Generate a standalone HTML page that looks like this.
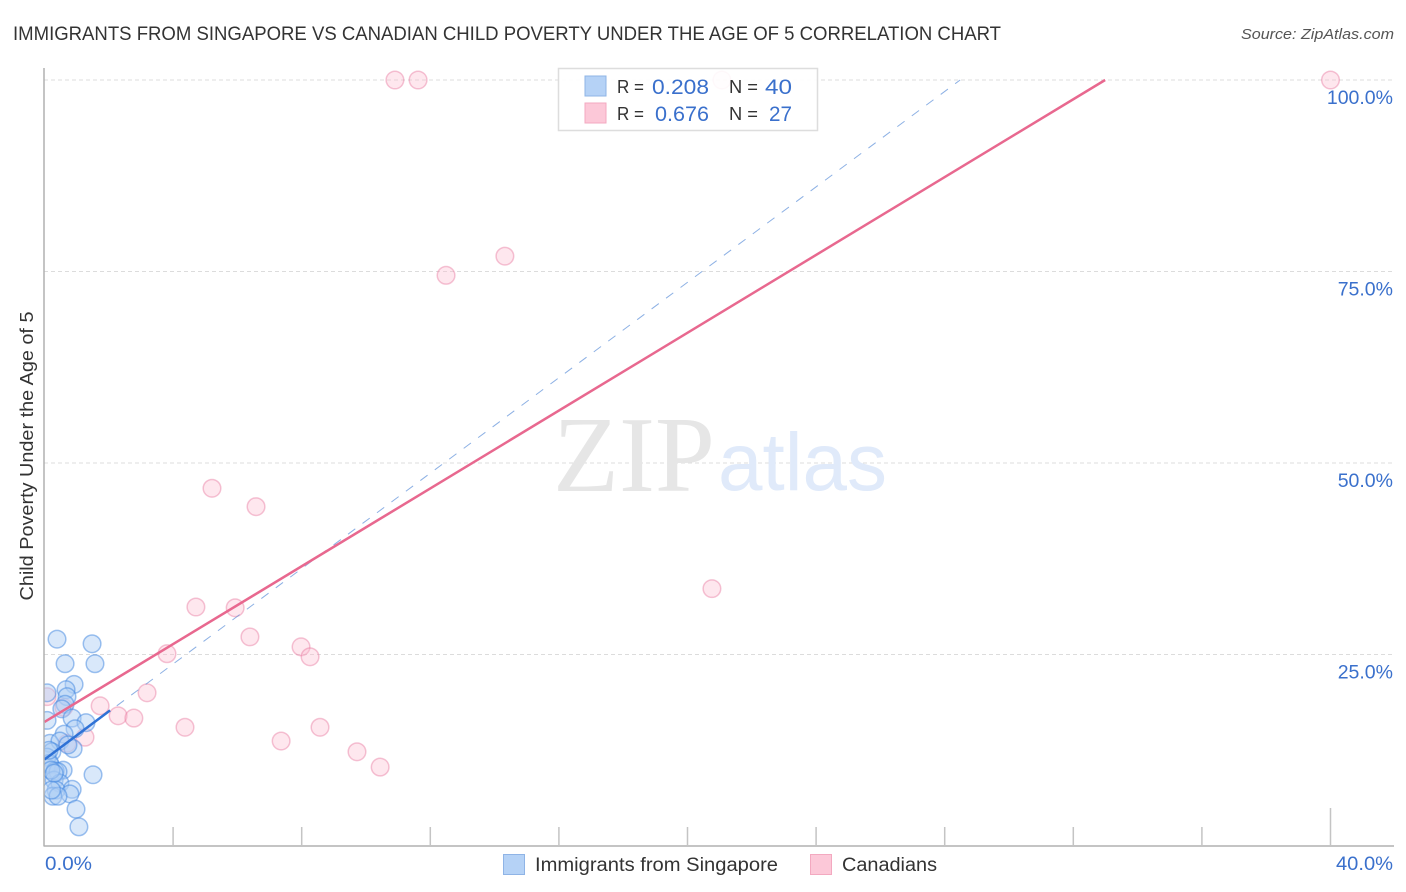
<!DOCTYPE html>
<html>
<head>
<meta charset="utf-8">
<style>
html,body{margin:0;padding:0;background:#fff;width:1406px;height:892px;overflow:hidden}
svg{display:block}
text{font-family:"Liberation Sans",sans-serif}
</style>
</head>
<body>
<svg id="chart" width="1406" height="892" viewBox="0 0 1406 892" xmlns="http://www.w3.org/2000/svg">
  <defs>
    <clipPath id="plot-clip"><rect x="44" y="60" width="1360" height="786"/></clipPath>
  </defs>
  <rect x="0" y="0" width="1406" height="892" fill="#ffffff"/>
  <text x="13" y="40" font-size="19.5" fill="#333333" textLength="988" lengthAdjust="spacingAndGlyphs">IMMIGRANTS FROM SINGAPORE VS CANADIAN CHILD POVERTY UNDER THE AGE OF 5 CORRELATION CHART</text>
  <text x="1241" y="39" font-size="15" font-style="italic" fill="#555555" textLength="153" lengthAdjust="spacingAndGlyphs">Source: ZipAtlas.com</text>
  <g id="grid"></g>
  <text x="553" y="491" font-size="108" fill="#e6e6e6" textLength="162" lengthAdjust="spacingAndGlyphs" style="font-family:'Liberation Serif',serif">ZIP</text>
  <text x="718" y="490" font-size="82" fill="#e0eafa" textLength="169" lengthAdjust="spacingAndGlyphs">atlas</text>
  <g id="points" clip-path="url(#plot-clip)"></g>
  <g id="lines"></g>
  <g id="axes"></g>
  <text transform="translate(33,456) rotate(-90)" font-size="18.5" fill="#333333" text-anchor="middle" textLength="289" lengthAdjust="spacingAndGlyphs">Child Poverty Under the Age of 5</text>

  <g>
    <rect x="558.5" y="68.5" width="259" height="62" fill="#ffffff" fill-opacity="0.9" stroke="#dddddd" stroke-width="1.5"/>
    <rect x="585" y="76" width="21" height="20" fill="#b5d2f6" stroke="#8fb4e6" stroke-width="1"/>
    <rect x="585" y="103" width="21" height="20" fill="#fcc8d8" stroke="#f3a9c0" stroke-width="1"/>
    <text x="617" y="93" font-size="18.5" fill="#333333" textLength="27" lengthAdjust="spacingAndGlyphs">R =</text>
    <text x="652" y="94" font-size="21" fill="#3a70cc" textLength="57" lengthAdjust="spacingAndGlyphs">0.208</text>
    <text x="729" y="93" font-size="18.5" fill="#333333" textLength="29" lengthAdjust="spacingAndGlyphs">N =</text>
    <text x="765" y="94" font-size="21" fill="#3a70cc" textLength="27" lengthAdjust="spacingAndGlyphs">40</text>
    <text x="617" y="120" font-size="18.5" fill="#333333" textLength="27" lengthAdjust="spacingAndGlyphs">R =</text>
    <text x="655" y="121" font-size="21" fill="#3a70cc" textLength="54" lengthAdjust="spacingAndGlyphs">0.676</text>
    <text x="729" y="120" font-size="18.5" fill="#333333" textLength="29" lengthAdjust="spacingAndGlyphs">N =</text>
    <text x="769" y="121" font-size="21" fill="#3a70cc" textLength="23" lengthAdjust="spacingAndGlyphs">27</text>
  </g>

  <g>
    <rect x="503.5" y="854.5" width="21" height="20" fill="#b5d2f6" stroke="#8fb4e6" stroke-width="1"/>
    <text x="535" y="871" font-size="19" fill="#333333" textLength="243" lengthAdjust="spacingAndGlyphs">Immigrants from Singapore</text>
    <rect x="810.5" y="854.5" width="21" height="20" fill="#fcc8d8" stroke="#f3a9c0" stroke-width="1"/>
    <text x="842" y="871" font-size="19" fill="#333333" textLength="95" lengthAdjust="spacingAndGlyphs">Canadians</text>
  </g>
</svg>
<script>
const singaporeX = [0.39,1.48,0.64,1.57,0.92,0.67,0.70,0.08,0.64,0.54,0.86,0.08,1.29,0.95,0.61,0.17,0.48,0.89,0.73,0.23,0.08,0.17,0.16,0.58,0.33,1.51,0.42,0.30,0.48,0.86,0.36,0.79,0.26,0.42,0.98,1.07,0.14,0.20,0.30,0.22];
const singaporeY = [27.0,26.4,23.8,23.8,21.1,20.4,19.5,20.0,18.5,17.9,16.7,16.4,16.1,15.3,14.6,13.4,13.7,12.7,13.2,12.3,11.6,10.6,10.8,9.9,9.8,9.3,9.7,8.6,8.2,7.4,7.3,6.8,6.5,6.5,4.8,2.5,12.5,9.9,9.5,7.3];
const canadiansX = [10.9,11.62,21.07,40.0,14.32,12.49,5.21,6.58,20.76,4.71,5.93,6.39,3.81,7.98,8.26,3.19,1.73,2.29,2.78,4.37,8.57,1.26,7.36,9.72,10.44,0.08,0.60,0.70];
const canadiansY = [100,100,100,100,77.0,74.5,46.7,44.3,33.6,31.2,31.1,27.3,25.1,26.0,24.7,20.0,18.3,17.0,16.7,15.5,15.5,14.2,13.7,12.3,10.3,19.5,18.1,13.4];
const singaporeSolidX = [0,2.04];
const singaporeSolidY = [11.3,17.7];
const singaporeDashX = [0,28.48];
const singaporeDashY = [11.3,100];
const canadiansLineX = [0,32.99];
const canadiansLineY = [16.2,100];
const xTickValues = [4,8,12,16,20,24,28,32,36,40];
const yTickValues = [100,75,50,25];
const yTickLabels = ['100.0%','75.0%','50.0%','25.0%'];
const xEndValues = [0,40];
const xEndLabels = ['0.0%','40.0%'];

const NS = 'http://www.w3.org/2000/svg';
function xScale(v){ return 44.5 + v * 32.15; }
function yScale(v){ return 846 - v * 7.66; }
function make(tag, attrs, parent){
  const el = document.createElementNS(NS, tag);
  for (const k in attrs) el.setAttribute(k, attrs[k]);
  parent.appendChild(el);
  return el;
}

const grid = document.getElementById('grid');
yTickValues.forEach(function(v){
  const g = make('line', {x1:44, x2:1394, y1:yScale(v), y2:yScale(v), stroke:'#dcdcdc', 'stroke-width':1, 'stroke-dasharray':'4 3'}, grid);
  
  
});

const points = document.getElementById('points');
canadiansX.forEach(function(v, i){
  const c = make('circle', {cx:xScale(v), cy:yScale(canadiansY[i]), r:8.8, fill:'#fbbdd1', 'fill-opacity':0.36, stroke:'#e8729a', 'stroke-opacity':0.42, 'stroke-width':1.5}, points);
  
  
});
singaporeX.forEach(function(v, i){
  const c = make('circle', {cx:xScale(v), cy:yScale(singaporeY[i]), r:8.8, fill:'#b0cff5', 'fill-opacity':0.48, stroke:'#3f86e0', 'stroke-opacity':0.5, 'stroke-width':1.5}, points);
  
  
});

const lines = document.getElementById('lines');
const dash = make('line', {x1:xScale(singaporeDashX[0]), y1:yScale(singaporeDashY[0]), x2:xScale(singaporeDashX[1]), y2:yScale(singaporeDashY[1]), stroke:'#5b8fd8', 'stroke-width':1, 'stroke-dasharray':'9 9', 'stroke-opacity':0.7}, lines);


const solid = make('line', {x1:xScale(singaporeSolidX[0]), y1:yScale(singaporeSolidY[0]), x2:xScale(singaporeSolidX[1]), y2:yScale(singaporeSolidY[1]), stroke:'#2f72d6', 'stroke-width':2.5}, lines);


const pink = make('line', {x1:xScale(canadiansLineX[0]), y1:yScale(canadiansLineY[0]), x2:xScale(canadiansLineX[1]), y2:yScale(canadiansLineY[1]), stroke:'#e8688f', 'stroke-width':2.5}, lines);



const axes = document.getElementById('axes');
const yAxis = make('line', {x1:44, x2:44, y1:68, y2:846, stroke:'#b0b0b0', 'stroke-width':1.5}, axes);


const xAxis = make('line', {x1:43.5, x2:1394, y1:846, y2:846, stroke:'#b0b0b0', 'stroke-width':1.5}, axes);


xTickValues.forEach(function(v){
  const major = v === 40;
  const t = make('line', {x1:xScale(v), x2:xScale(v), y1: major ? 808 : 827, y2:846, stroke:'#c4c4c4', 'stroke-width':1.5}, axes);
  
  
});
yTickValues.forEach(function(v, i){
  const t = make('text', {x:1393, y:yScale(v) + 24, 'font-size':19.5, fill:'#3a70cc', 'text-anchor':'end'}, axes);
  t.textContent = yTickLabels[i];
  
  
});
xEndValues.forEach(function(v, i){
  const t = make('text', {x: i === 0 ? 45 : 1336, y:870, 'font-size':19.5, fill:'#3a70cc', textLength: i === 0 ? 47 : 57, lengthAdjust:'spacingAndGlyphs'}, axes);
  t.textContent = xEndLabels[i];
  
  
});
</script>
</body>
</html>
